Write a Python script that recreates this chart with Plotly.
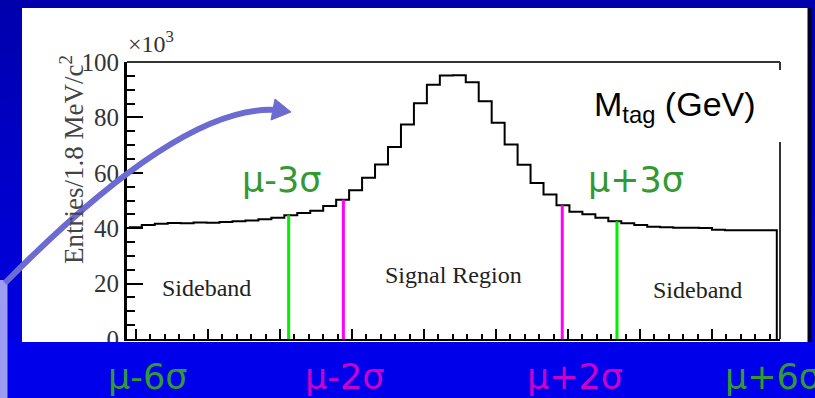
import plotly.graph_objects as go

# ---------------- data ----------------
bin_lo = 1.819          # GeV, lower edge of first bin
bin_w = 0.0018          # GeV (1.8 MeV bins)
counts = [40.3, 41.2, 41.6, 41.9, 41.8, 42.1, 42.0, 42.2, 42.5, 42.8,
          43.2, 43.8, 44.7, 45.5, 46.3, 48.0, 50.3, 53.7, 58.2, 63.0,
          69.3, 77.4, 85.1, 91.8, 95.1, 95.2, 92.7, 85.8, 78.1, 70.2,
          62.9, 56.3, 52.2, 48.3, 45.9, 45.0, 43.8, 42.5, 41.8, 41.2,
          40.5, 40.3, 40.2, 40.2, 40.1, 39.4, 39.3, 39.3, 39.3, 39.3]  # x10^3
mu = 1.864
sigma = 0.0076
y_ticks = [0, 20, 40, 60, 80, 100]
region_labels = ["Sideband", "Signal Region", "Sideband"]
inner_sigma_labels = ["μ-3σ", "μ+3σ"]
bottom_labels = ["μ-6σ", "μ-2σ", "μ+2σ", "μ+6σ"]

# ---------------- geometry helpers (pixel -> paper) ----------------
W, H = 815, 398
L, R, T, B = 127, 780, 62, 339


def px(x):
    return (x - L) / (R - L)


def py(y):
    return (B - y) / (B - T)


fig = go.Figure()

# histogram (step line)
edges = [bin_lo + i * bin_w for i in range(len(counts) + 1)]
hx = edges + [edges[-1]]
hy = counts + [counts[-1], 0]
fig.add_trace(go.Scatter(x=hx, y=hy, mode="lines", line=dict(color="black", width=2, shape="hv"),
                         hoverinfo="skip", showlegend=False))

# sigma lines
GREEN_LINE = "#00ee00"
MAGENTA_LINE = "#ff00ff"
for k, col in [(-3, GREEN_LINE), (-2, MAGENTA_LINE), (2, MAGENTA_LINE), (3, GREEN_LINE)]:
    xv = mu + k * sigma
    idx = int((xv - bin_lo) / bin_w)
    h = counts[idx]
    fig.add_trace(go.Scatter(x=[xv, xv], y=[0, h], mode="lines", line=dict(color=col, width=3),
                             hoverinfo="skip", showlegend=False))

# ---------------- background shapes ----------------
shapes = []
n = 40
for i in range(n):
    y0 = H * i / n
    y1 = H * (i + 1) / n + 0.5
    c = int(172 + (238 - 172) * (i + 0.5) / n)
    shapes.append(dict(type="rect", xref="paper", yref="paper", layer="below",
                       x0=px(-5), x1=px(W + 5), y0=py(y1), y1=py(y0),
                       fillcolor=f"rgb(0,0,{c})", line=dict(width=0)))
# white slide panel
shapes.append(dict(type="rect", xref="paper", yref="paper", layer="below",
                   x0=px(22), x1=px(808), y0=py(342), y1=py(8),
                   fillcolor="white", line=dict(width=0)))
# dark right edge of panel
shapes.append(dict(type="rect", xref="paper", yref="paper", layer="below",
                   x0=px(807.5), x1=px(811.5), y0=py(342), y1=py(8),
                   fillcolor="#000022", line=dict(width=0)))
# frame top & right (with gap for the label)
shapes.append(dict(type="line", xref="paper", yref="paper", layer="above",
                   x0=0, x1=1, y0=1, y1=1, line=dict(color="#333333", width=2)))
shapes.append(dict(type="line", xref="paper", yref="paper", layer="above",
                   x0=1, x1=1, y0=py(70), y1=1, line=dict(color="#333333", width=2)))
shapes.append(dict(type="line", xref="paper", yref="paper", layer="above",
                   x0=1, x1=1, y0=0, y1=py(142), line=dict(color="#333333", width=2)))
# bottom blue band (covers the bottom of the '0' label)
shapes.append(dict(type="rect", xref="paper", yref="paper", layer="above",
                   x0=px(-5), x1=px(W + 5), y0=py(H + 5), y1=py(342),
                   fillcolor="rgb(0,0,234)", line=dict(width=0)))
# left light bar
shapes.append(dict(type="rect", xref="paper", yref="paper", layer="above",
                   x0=px(-2), x1=px(7.5), y0=py(H + 5), y1=py(280),
                   fillcolor="#9c9cf2", line=dict(width=0)))
# curved arrow
ARROW = "#6b6bd2"
shapes.append(dict(type="path", xref="paper", yref="paper", layer="above",
                   path=f"M {px(5)},{py(283)} Q {px(181)},{py(104)} {px(276)},{py(110)}",
                   line=dict(color=ARROW, width=6)))
shapes.append(dict(type="path", xref="paper", yref="paper", layer="above",
                   path=f"M {px(291)},{py(112)} L {px(275)},{py(99)} L {px(271)},{py(120)} Z",
                   fillcolor=ARROW, line=dict(color=ARROW, width=1)))

# ---------------- annotations ----------------
SERIF = "Liberation Serif, Times New Roman, serif"
SANS = "Liberation Sans, Arial, sans-serif"
DJ = "DejaVu Sans, sans-serif"
GREEN_TXT = "#339933"
MAG_TXT = "#cc00cc"
ann = []


def add_text(text, x, y, font, xanchor="center", yanchor="middle", **kw):
    ann.append(dict(text=text, x=x, y=y, xref="paper", yref="paper", showarrow=False,
                    xanchor=xanchor, yanchor=yanchor, font=font, **kw))


add_text("Entries/1.8 MeV/c<sup>2</sup>", px(72), py(160),
         dict(family=SERIF, size=27, color="#444444"), textangle=-90)
add_text("×10<sup>3</sup>", px(126), py(59), dict(family=SERIF, size=24, color="#333333"),
         xanchor="left", yanchor="bottom")
add_text("M<sub>tag</sub> (GeV)", px(592), py(106), dict(family=SANS, size=34, color="black"),
         xanchor="left")
for txt, cx, cy in zip(region_labels, [206, 453, 697], [288, 275, 290]):
    add_text(txt, px(cx), py(cy), dict(family=SERIF, size=24, color="#222222"))
for txt, cx in zip(inner_sigma_labels, [281, 636]):
    add_text(txt, px(cx), py(180), dict(family=DJ, size=35, color=GREEN_TXT))
for txt, cx, col, anc in zip(bottom_labels, [147, 344, 575, 723],
                             [GREEN_TXT, MAG_TXT, MAG_TXT, GREEN_TXT],
                             ["center", "center", "center", "left"]):
    add_text(txt, px(cx), py(377), dict(family=DJ, size=35, color=col), xanchor=anc)

x_lo = 1.82 + (L - 136) / 7200
x_hi = 1.82 + (R - 136) / 7200

fig.update_layout(
    width=W, height=H,
    margin=dict(l=L, r=W - R, t=T, b=H - B, pad=0),
    paper_bgcolor="rgb(0,0,200)",
    plot_bgcolor="rgba(0,0,0,0)",
    shapes=shapes,
    annotations=ann,
    showlegend=False,
    xaxis=dict(range=[x_lo, x_hi], showline=True, linecolor="black", linewidth=2,
               ticks="inside", ticklen=10, tickwidth=1.5, tickcolor="black",
               tick0=1.82, dtick=0.01, showticklabels=False, showgrid=False, zeroline=False,
               minor=dict(ticks="inside", ticklen=5, tickwidth=1.5, tickcolor="black",
                          tick0=1.82, dtick=0.002, showgrid=False)),
    yaxis=dict(range=[0, 100], showline=True, linecolor="black", linewidth=3,
               ticks="inside", ticklen=16, tickwidth=2, tickcolor="black",
               tickvals=y_ticks, ticktext=[str(v) for v in y_ticks],
               tickfont=dict(family=SERIF, size=25, color="#333333"),
               showgrid=False, zeroline=False,
               minor=dict(ticks="inside", ticklen=8, tickwidth=1.5, tickcolor="black",
                          dtick=5, showgrid=False)),
)

fig.write_html("out.html", config={"displayModeBar": False},
               post_script="document.body.style.margin='0';document.body.style.overflow='hidden';")
